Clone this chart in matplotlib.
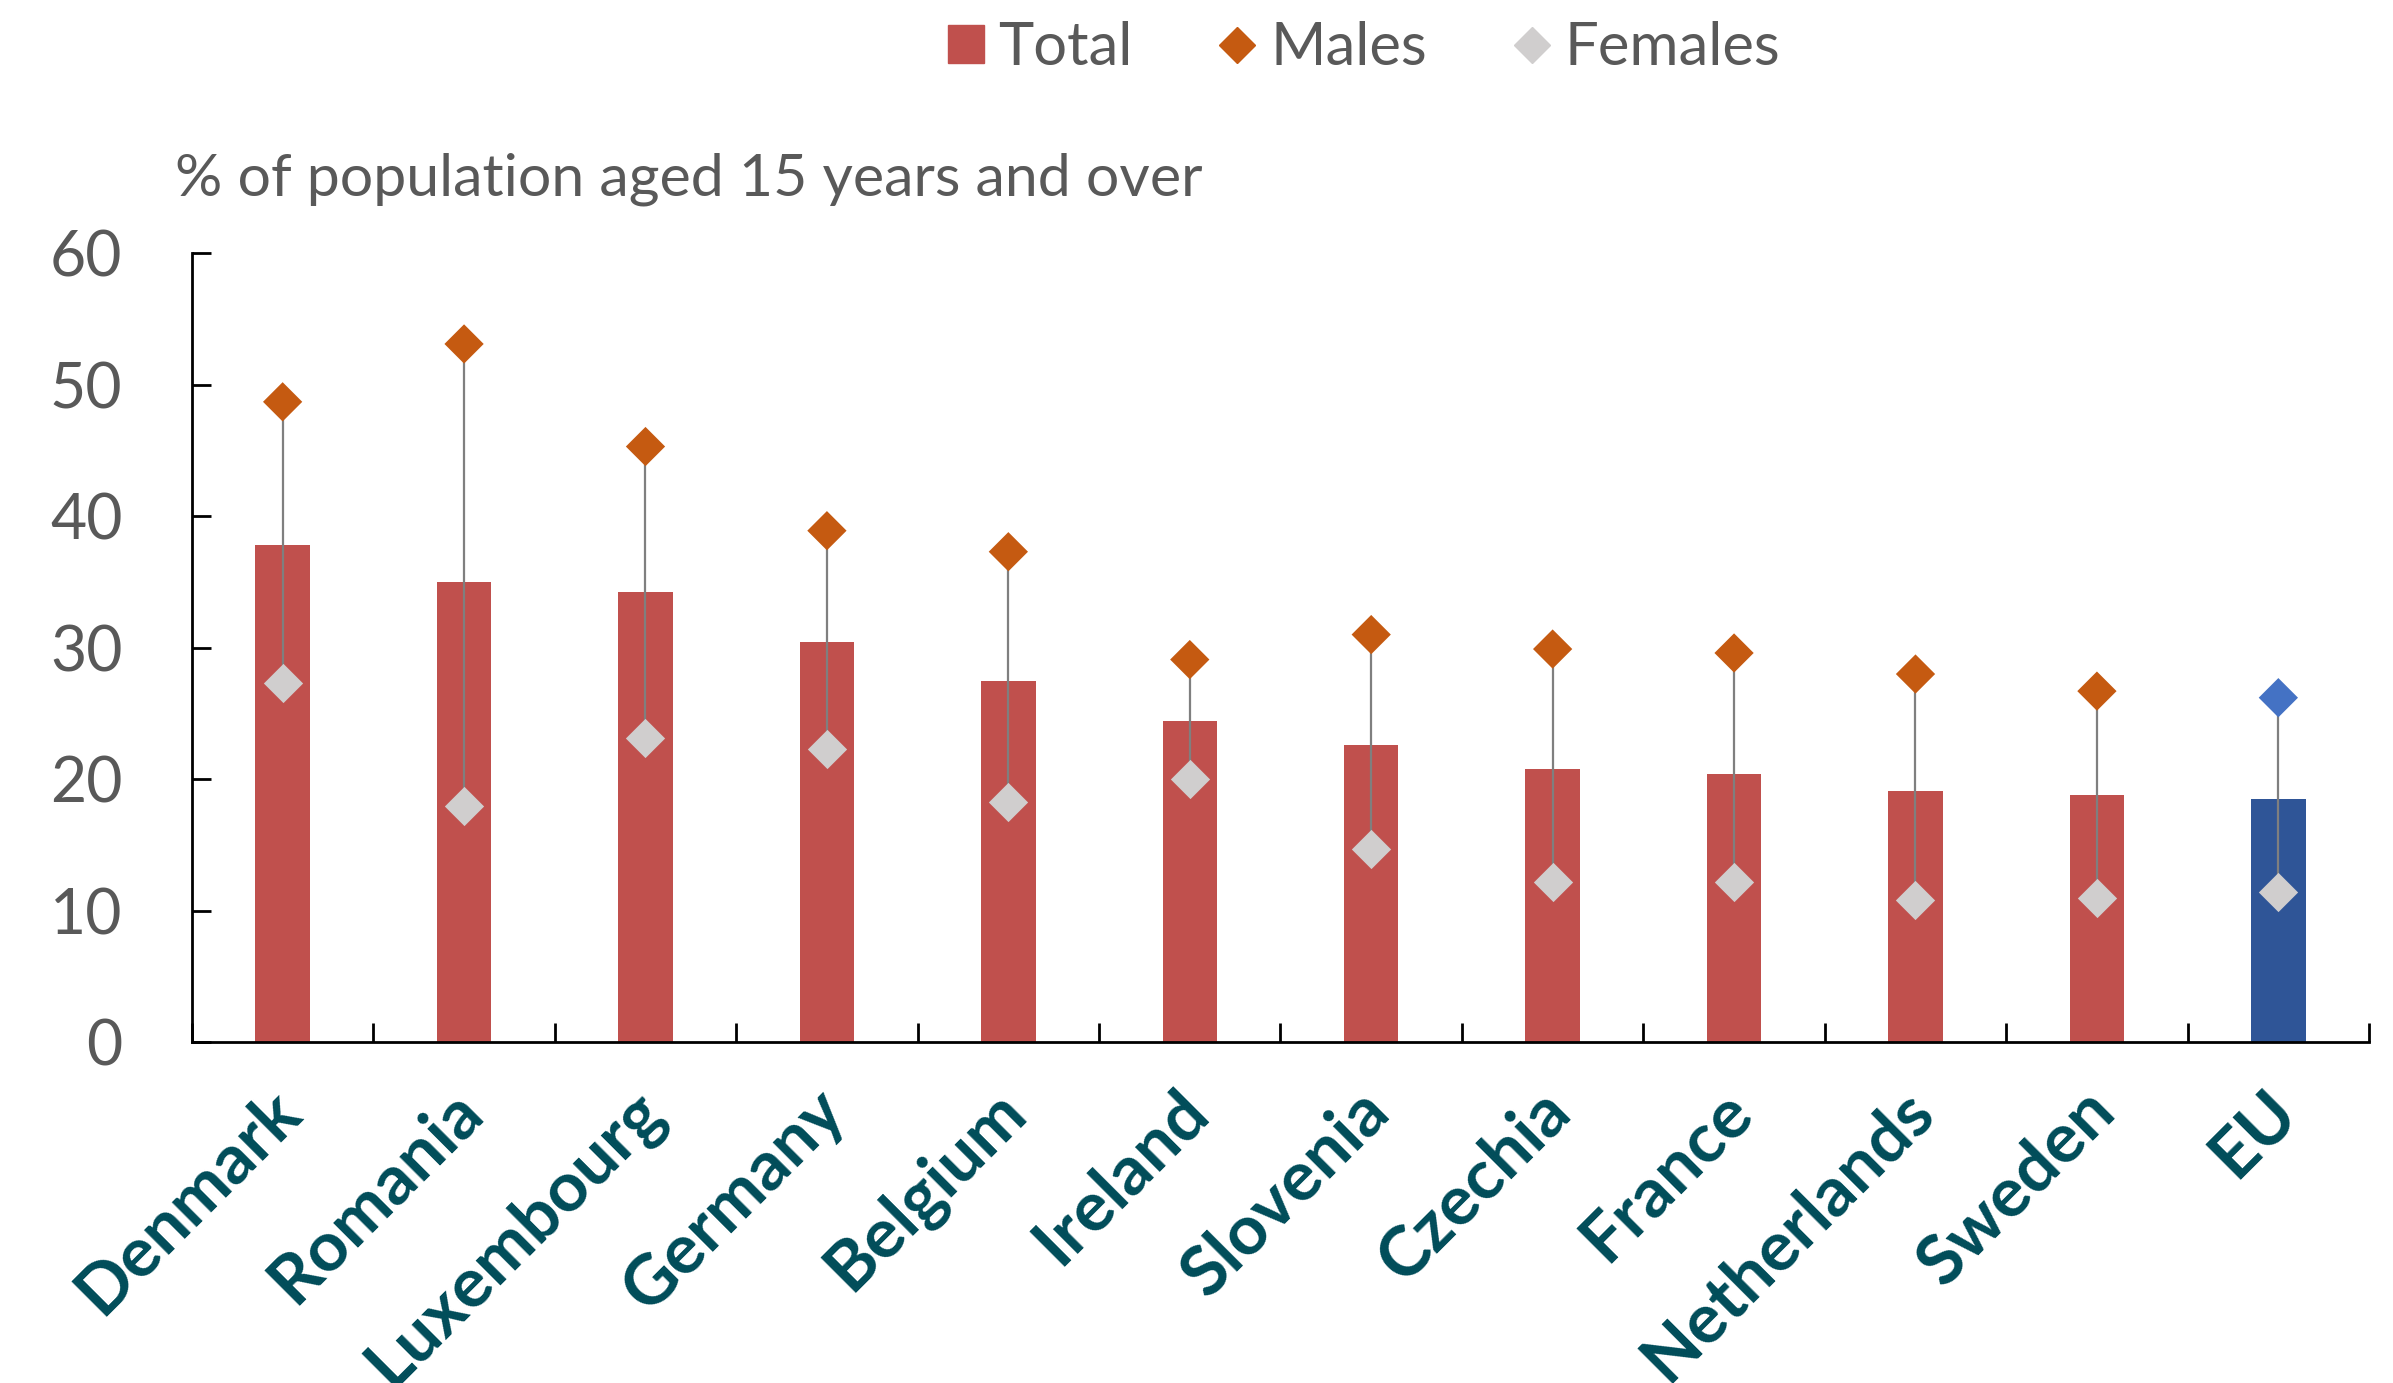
import matplotlib.pyplot as plt
from matplotlib.lines import Line2D
from matplotlib.patches import Patch
from matplotlib.transforms import ScaledTranslation

# Data
countries = ['Denmark', 'Romania', 'Luxembourg', 'Germany', 'Belgium', 'Ireland',
             'Slovenia', 'Czechia', 'France', 'Netherlands', 'Sweden', 'EU']
total = [37.8, 35.0, 34.2, 30.4, 27.5, 24.4, 22.6, 20.8, 20.4, 19.1, 18.8, 18.5]
males = [48.7, 53.1, 45.3, 38.9, 37.3, 29.1, 31.0, 29.9, 29.6, 28.0, 26.7, 26.2]
females = [27.3, 18.0, 23.1, 22.3, 18.3, 20.0, 14.7, 12.2, 12.2, 10.8, 11.0, 11.4]

red = '#C0504D'
blue = '#2F5597'
orange = '#C55A11'
lightblue = '#4472C4'
grey = '#D0CECE'
txt = '#595959'
teal = '#004C59'

plt.rcParams['font.family'] = ['Lato', 'DejaVu Sans']

fig = plt.figure(figsize=(23.93, 13.83), dpi=100)
ax = fig.add_axes([0.0802, 0.2464, 0.9098, 0.5705])

x = list(range(len(countries)))
bar_colors = [blue if c == 'EU' else red for c in countries]
male_colors = [lightblue if c == 'EU' else orange for c in countries]

ax.bar(x, total, width=0.30, color=bar_colors, zorder=1)
ax.vlines(x, females, males, color='#7F7F7F', linewidth=1.6, zorder=2)
ax.scatter(x, males, marker='D', s=20**2, color=male_colors, zorder=3, linewidths=0)
ax.scatter(x, females, marker='D', s=20**2, color=grey, zorder=3, linewidths=0)

ax.set_xlim(-0.5, len(countries) - 0.5)
ax.set_ylim(0, 60)
ax.set_yticks(range(0, 61, 10))

for s in ['top', 'right']:
    ax.spines[s].set_visible(False)
for s in ['left', 'bottom']:
    ax.spines[s].set_linewidth(2)

ax.tick_params(axis='y', direction='in', length=14, width=2, pad=50,
               labelsize=45, labelcolor=txt)
ax.set_xticks(x)
ax.set_xticklabels(countries, fontsize=50, fontweight='bold', color=teal,
                   rotation=45, ha='right', va='top', rotation_mode='anchor')
ax.set_xticks([i - 0.5 for i in range(len(countries) + 1)], minor=True)
ax.tick_params(axis='x', which='major', length=0, pad=26)
ax.tick_params(axis='x', which='minor', direction='in', length=14, width=2)

offset = ScaledTranslation(-0.15, 0, fig.dpi_scale_trans)
for lab in ax.get_xticklabels():
    lab.set_transform(lab.get_transform() + offset)

fig.text(0.0733, 0.859, '% of population aged 15 years and over',
         fontsize=42.5, color=txt, va='baseline', ha='left')

handles = [
    Patch(color=red),
    Line2D([], [], marker='D', linestyle='none', markersize=18, color=orange),
    Line2D([], [], marker='D', linestyle='none', markersize=18, color=grey),
]
fig.legend(handles, ['Total', 'Males', 'Females'], loc='upper center',
           bbox_to_anchor=(0.57, 1.0235), ncol=3, frameon=False, fontsize=43,
           labelcolor=txt, handlelength=0.6, handleheight=0.6,
           columnspacing=1.45, handletextpad=0.25)

fig.savefig('out.png', dpi=100)
